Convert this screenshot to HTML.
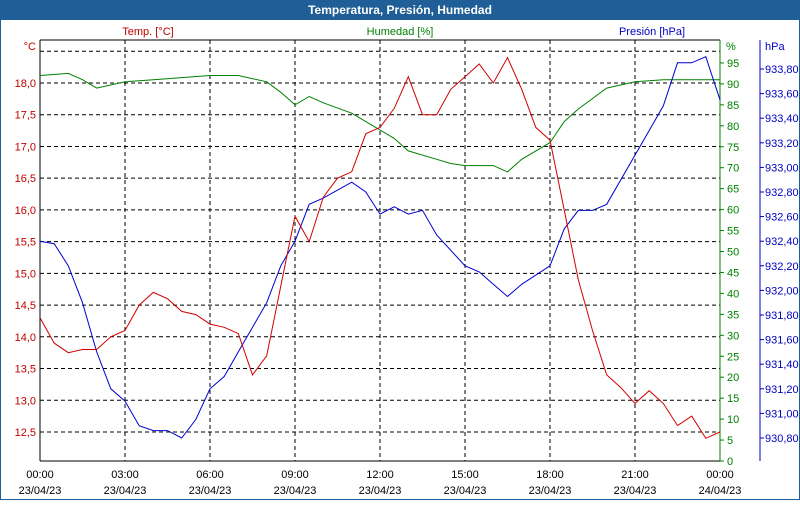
<!DOCTYPE html>
<html><head><meta charset="utf-8"><style>
body{margin:0;width:800px;height:500px;overflow:hidden;background:#fff;font-family:"Liberation Sans",sans-serif}
</style></head><body>
<svg id="c" width="800" height="500" xmlns="http://www.w3.org/2000/svg" font-family="Liberation Sans, sans-serif" font-size="11">
<rect x="0" y="0" width="800" height="500" fill="#fff" stroke="#1f5e96" stroke-width="2"/>
<rect x="0" y="0" width="800" height="20" fill="#1f5e96"/>
<text x="400" y="14" text-anchor="middle" fill="#fff" font-weight="bold" font-size="12">Temperatura, Presión, Humedad</text>
<text x="148" y="35" text-anchor="middle" fill="#c00000">Temp. [°C]</text>
<text x="400" y="35" text-anchor="middle" fill="#008000">Humedad [%]</text>
<text x="652" y="35" text-anchor="middle" fill="#0000c0">Presión [hPa]</text>
<text x="36" y="50" text-anchor="end" fill="#c00000">°C</text>
<text x="726" y="50" fill="#008000">%</text>
<text x="765" y="50" fill="#0000c0">hPa</text>
<g id="g"></g>
</svg>
<script>
const tempHours=[0,0.5,1,1.5,2,2.5,3,3.5,4,4.5,5,5.5,6,6.5,7,7.5,8,8.5,9,9.5,10,10.5,11,11.5,12,12.5,13,13.5,14,14.5,15,15.5,16,16.5,17,17.5,18,18.5,19,19.5,20,20.5,21,21.5,22,22.5,23,23.5,24];
const tempValues=[14.3,13.9,13.75,13.8,13.8,14.0,14.1,14.5,14.7,14.6,14.4,14.35,14.2,14.15,14.05,13.4,13.7,14.8,15.9,15.5,16.2,16.5,16.6,17.2,17.3,17.6,18.1,17.5,17.5,17.9,18.1,18.3,18.0,18.4,17.9,17.3,17.1,16.0,14.9,14.1,13.4,13.2,12.95,13.15,12.95,12.6,12.75,12.4,12.5];
const humHours=[0,1,1.5,2,3,4,5,6,7,8,8.5,9,9.5,10,11,12,12.5,13,14,14.5,15,16,16.5,17,18,18.5,19,20,21,22,23,24];
const humValues=[92,92.5,91,89,90.5,91,91.5,92,92,90.5,88,85,87,85.5,83,79,77,74,72,71,70.5,70.5,69,72,76,81,84,89,90.5,91,91,91];
const presHours=[0,0.5,1,1.5,2,2.5,3,3.5,4,4.5,5,5.5,6,6.5,7,8,8.5,9,9.5,10,11,11.5,12,12.5,13,13.5,14,15,15.5,16,16.5,17,18,18.5,19,19.5,20,21,21.5,22,22.5,23,23.5,24];
const presValues=[932.4,932.38,932.2,931.9,931.5,931.2,931.1,930.9,930.86,930.86,930.8,930.95,931.2,931.3,931.5,931.9,932.2,932.4,932.7,932.75,932.88,932.8,932.62,932.68,932.62,932.65,932.45,932.2,932.15,932.05,931.95,932.05,932.2,932.5,932.65,932.65,932.7,933.1,933.3,933.5,933.85,933.85,933.9,933.55];
const tempTicks=["18,0","17,5","17,0","16,5","16,0","15,5","15,0","14,5","14,0","13,5","13,0","12,5"];
const humTicks=[0,5,10,15,20,25,30,35,40,45,50,55,60,65,70,75,80,85,90,95];
const presTicks=["930,80","931,00","931,20","931,40","931,60","931,80","932,00","932,20","932,40","932,60","932,80","933,00","933,20","933,40","933,60","933,80"];
const timeLabels=["00:00","03:00","06:00","09:00","12:00","15:00","18:00","21:00","00:00"];
const dateLabels=["23/04/23","23/04/23","23/04/23","23/04/23","23/04/23","23/04/23","23/04/23","23/04/23","24/04/23"];

const X0=40,X1=720,Y0=40,Y1=461;
const xs=h=>X0+h*(X1-X0)/24;
const yT=v=>83+(18-v)*63.45;
const yH=v=>461-v*4.19;
const yP=v=>438-(v-930.8)*123;
const g=document.getElementById('g');
const NS="http://www.w3.org/2000/svg";
function mk(t,a){const e=document.createElementNS(NS,t);for(const k in a)e.setAttribute(k,a[k]);g.appendChild(e);return e;}
// grid horizontal
[18.5].concat(tempTicks.map(s=>parseFloat(s.replace(',','.')))).forEach(v=>{
 const l=mk('line',{x1:X0,x2:X1,y1:yT(v),y2:yT(v),stroke:'#000','stroke-dasharray':'4,3'});
 
 
});
timeLabels.forEach((t,i)=>{
 const x=xs(i*3);
 if(i>0&&i<8){const l=mk('line',{x1:x,x2:x,y1:Y0,y2:Y1,stroke:'#000','stroke-dasharray':'4,3'});
 
 }
 const a=mk('text',{x:x,y:478,'text-anchor':'middle',fill:'#000'});a.textContent=t;
 
 
 const b=mk('text',{x:x,y:494,'text-anchor':'middle',fill:'#000'});b.textContent=dateLabels[i];
 
 
});
tempTicks.forEach(s=>{const v=parseFloat(s.replace(',','.'));
 const t=mk('text',{x:36,y:yT(v)+4,'text-anchor':'end',fill:'#c00000'});t.textContent=s;
 
 });
humTicks.forEach(v=>{
 mk('line',{x1:X1,x2:X1+4,y1:yH(v),y2:yH(v),stroke:'#008000'});
 const t=mk('text',{x:727,y:yH(v)+4,fill:'#008000'});t.textContent=v;
 
 });
presTicks.forEach(s=>{const v=parseFloat(s.replace(',','.'));
 mk('line',{x1:760,x2:764,y1:yP(v),y2:yP(v),stroke:'#0000c0'});
 const t=mk('text',{x:765,y:yP(v)+4,fill:'#0000c0'});t.textContent=s;
 
 });
const ax1=mk('line',{x1:X0,x2:X0,y1:Y0,y2:Y1,stroke:'#000'});


mk('line',{x1:X0,x2:X1,y1:Y0,y2:Y0,stroke:'#000'});
const ax0=mk('line',{x1:X0,x2:X1,y1:Y1,y2:Y1,stroke:'#000'});


const ax2=mk('line',{x1:X1,x2:X1,y1:Y0,y2:Y1,stroke:'#008000'});


const ax3=mk('line',{x1:760,x2:760,y1:Y0,y2:Y1,stroke:'#0000c0'});


function line(hs,vs,fy,col,name){
 const p=mk('polyline',{points:hs.map((h,i)=>xs(h).toFixed(1)+','+fy(vs[i]).toFixed(1)).join(' '),fill:'none',stroke:col,'stroke-width':1});
 
 
}
line(humHours,humValues,yH,'#008000','humidity-line');
line(presHours,presValues,yP,'#0000d0','pressure-line');
line(tempHours,tempValues,yT,'#d00000','temperature-line');
</script>
</body></html>
